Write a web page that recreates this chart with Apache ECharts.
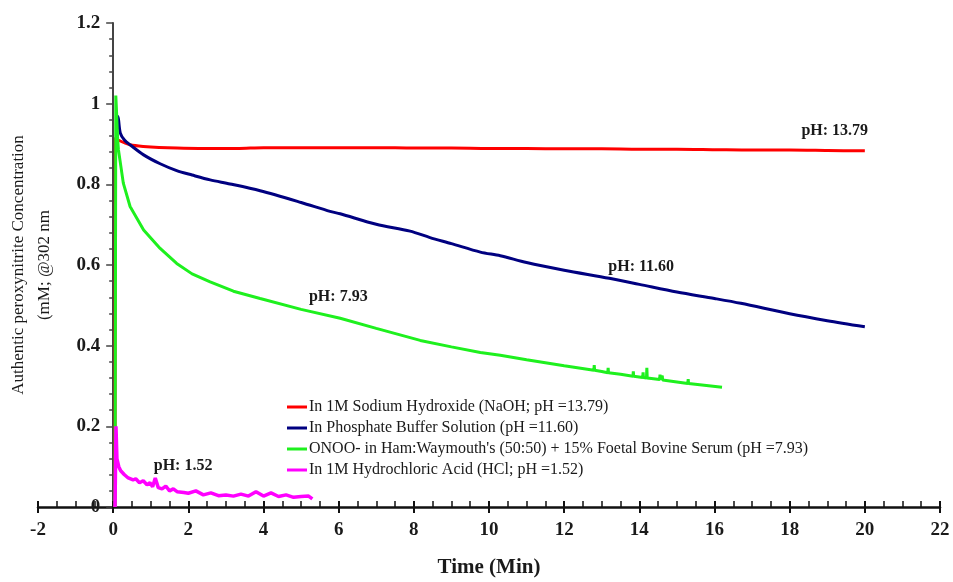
<!DOCTYPE html>
<html>
<head>
<meta charset="utf-8">
<script src="https://cdn.jsdelivr.net/npm/echarts@6/dist/echarts.min.js"></script>
<style>
  html, body { margin: 0; padding: 0; background: #fff; }
  #chart { width: 953px; height: 582px; }
</style>
</head>
<body>
<div id="chart"></div>
<script>
// ===== 数据 =====
var seriesNames = [
  'In 1M Sodium Hydroxide (NaOH; pH =13.79)',
  'In Phosphate Buffer Solution (pH =11.60)',
  "ONOO- in Ham:Waymouth's (50:50) + 15% Foetal Bovine Serum (pH =7.93)",
  'In 1M Hydrochloric Acid (HCl; pH =1.52)'
];
var seriesColors = ['#ff0000', '#000080', '#1ef01e', '#ff00ff'];

// NaOH, pH 13.79
var naohTime = [0.05, 0.06, 0.13, 0.45, 0.8, 1.7, 2.5, 3.3, 4, 5, 6, 7, 8, 9, 10, 11, 12, 13, 14, 15, 16, 17, 18, 19, 20];
var naohConc = [0, 0.915, 0.91, 0.898, 0.894, 0.89, 0.889, 0.889, 0.891, 0.891, 0.891, 0.891, 0.89, 0.89, 0.889, 0.889, 0.888, 0.888, 0.887, 0.887, 0.886, 0.885, 0.885, 0.884, 0.883];

// 磷酸缓冲液, pH 11.60
var pbsTime = [0.12, 0.13, 0.19, 0.3, 0.45, 0.81, 1.25, 1.69, 2.1, 2.58, 3.11, 3.91, 5, 5.77, 6.04, 7, 7.9, 8.43, 9, 9.77, 10.3, 11, 12, 13.2, 14, 15, 16, 16.7, 18, 19, 20];
var pbsConc = [0.95, 0.968, 0.927, 0.91, 0.898, 0.873, 0.851, 0.834, 0.823, 0.811, 0.801, 0.784, 0.755, 0.733, 0.727, 0.701, 0.684, 0.668, 0.653, 0.632, 0.623, 0.606, 0.587, 0.567, 0.552, 0.533, 0.517, 0.505, 0.479, 0.462, 0.447];

// 细胞培养基, pH 7.93
var mediumTime = [0.05, 0.07, 0.09, 0.12, 0.14, 0.27, 0.45, 0.81, 1.25, 1.69, 2.1, 2.58, 3.2, 3.91, 5, 6.04, 7, 8.17, 9, 9.77, 10.3, 11, 12, 12.79, 12.8, 12.81, 13, 13.16, 13.17, 13.18, 13.5, 13.83, 13.84, 13.85, 14.09, 14.1, 14.11, 14.19, 14.2, 14.21, 14.54, 14.55, 14.56, 14.6, 14.61, 14.62, 15, 15.29, 15.3, 15.31, 16.2];
var mediumConc = [0, 1.02, 0.98, 0.91, 0.886, 0.803, 0.745, 0.687, 0.641, 0.604, 0.578, 0.558, 0.535, 0.517, 0.49, 0.468, 0.443, 0.413, 0.397, 0.383, 0.376, 0.365, 0.35, 0.339, 0.352, 0.339, 0.336, 0.333, 0.345, 0.333, 0.329, 0.324, 0.336, 0.324, 0.321, 0.334, 0.321, 0.32, 0.345, 0.32, 0.316, 0.328, 0.316, 0.315, 0.326, 0.315, 0.31, 0.306, 0.317, 0.306, 0.297];

// 盐酸, pH 1.52
var hclTime = [0.05, 0.07, 0.075, 0.09, 0.1, 0.15, 0.2, 0.3, 0.4, 0.53, 0.6, 0.7, 0.8, 0.9, 0.98, 1.05, 1.12, 1.2, 1.3, 1.4, 1.5, 1.6, 1.7, 1.88, 2, 2.2, 2.4, 2.6, 2.8, 3, 3.2, 3.4, 3.6, 3.8, 4, 4.2, 4.4, 4.6, 4.8, 5, 5.2, 5.3];
var hclConc = [0, 0, 0.2, 0.2, 0.12, 0.1, 0.09, 0.08, 0.072, 0.067, 0.07, 0.06, 0.065, 0.055, 0.06, 0.05, 0.072, 0.048, 0.045, 0.052, 0.04, 0.045, 0.038, 0.036, 0.034, 0.04, 0.03, 0.035, 0.028, 0.03, 0.027, 0.032, 0.027, 0.038, 0.027, 0.035, 0.026, 0.03, 0.024, 0.026, 0.027, 0.02];

// pH 标注
var noteTime = [19.2, 14.05, 5.99, 1.86];
var noteConc = [0.933, 0.596, 0.522, 0.101];
var noteText = ['pH: 13.79', 'pH: 11.60', 'pH: 7.93', 'pH: 1.52'];

var FONT = 'Liberation Serif';

// 布局：x 轴 -2..22，y 轴画在 x=0 处
var GRID_LEFT = 38, GRID_RIGHT = 13, X_MIN = -2, X_MAX = 22;
var plotWidth = 953 - GRID_LEFT - GRID_RIGHT;
var yAxisShift = plotWidth * (0 - X_MIN) / (X_MAX - X_MIN);

function pairs(xs, ys) {
  return xs.map(function(x, i) { return [x, ys[i]]; });
}

var chart = echarts.init(document.getElementById('chart'));

var lineData = [pairs(naohTime, naohConc), pairs(pbsTime, pbsConc), pairs(mediumTime, mediumConc), pairs(hclTime, hclConc)];

var series = lineData.map(function(d, i) {
  return {
    name: seriesNames[i],
    type: 'line',
    data: d,
    showSymbol: false,
    symbol: 'none',
    smooth: (i === 0 || i === 1) ? 0.3 : false,
    lineStyle: { color: seriesColors[i], width: i === 3 ? 3.5 : 3 },
    itemStyle: { color: seriesColors[i] },
    animation: false
  };
});

series.push({
  name: 'notes',
  type: 'scatter',
  data: noteTime.map(function(t, i) { return [t, noteConc[i], noteText[i]]; }),
  symbolSize: 1,
  itemStyle: { color: 'rgba(0,0,0,0)', opacity: 1 },
  silent: true,
  label: {
    show: true,
    position: 'inside',
    formatter: function(p) { return p.value[2]; },
    fontFamily: FONT,
    fontWeight: 'bold',
    fontSize: 16,
    color: '#1a1a1a',
    opacity: 1
  },
  animation: false
});

var option = {
  backgroundColor: '#fff',
  animation: false,
  grid: { left: GRID_LEFT, right: GRID_RIGHT, top: 23, bottom: 75, outerBoundsMode: 'none', containLabel: false },
  legend: {
    orient: 'vertical',
    left: 282,
    top: 394,
    itemWidth: 20,
    itemHeight: 3,
    itemGap: 5,
    data: seriesNames.map(function(n) { return { name: n, icon: 'rect' }; }),
    textStyle: { fontFamily: FONT, fontSize: 16, color: '#1a1a1a', lineHeight: 16, padding: [0, 0, 0, -3] }
  },
  xAxis: [
    {
      type: 'value',
      min: X_MIN,
      max: X_MAX,
      interval: 2,
      name: 'Time (Min)',
      nameLocation: 'middle',
      nameGap: 50,
      nameTextStyle: { fontFamily: FONT, fontWeight: 'bold', fontSize: 21, color: '#1a1a1a' },
      axisLine: { onZero: true, lineStyle: { color: '#111', width: 2.5 } },
      axisTick: { show: true, inside: true, length: 6, lineStyle: { color: '#111', width: 2 } },
      minorTick: { show: true, splitNumber: 4, length: 6, lineStyle: { color: '#111', width: 1.5 } },
      splitLine: { show: false },
      axisLabel: { fontFamily: FONT, fontWeight: 'bold', fontSize: 19, color: '#1a1a1a', margin: 14 }
    },
    {
      // 主刻度向下延伸部分
      type: 'value',
      position: 'bottom',
      min: X_MIN,
      max: X_MAX,
      interval: 2,
      axisLine: { show: false, onZero: false },
      axisTick: { show: true, inside: false, length: 6, lineStyle: { color: '#111', width: 2 } },
      axisLabel: { show: false },
      splitLine: { show: false }
    }
  ],
  yAxis: {
    type: 'value',
    min: 0,
    max: 1.2,
    interval: 0.2,
    offset: -yAxisShift,
    name: 'Authentic peroxynitrite Concentration\n(mM; @302 nm',
    nameLocation: 'middle',
    nameGap: 56,
    nameTextStyle: { fontFamily: FONT, fontSize: 17, color: '#1a1a1a', lineHeight: 26, align: 'center' },
    axisLine: { onZero: false, lineStyle: { color: '#444', width: 2 } },
    axisTick: { show: true, inside: false, length: 7, lineStyle: { color: '#444', width: 1.5 } },
    minorTick: { show: true, splitNumber: 5, length: 4, lineStyle: { color: '#444', width: 1.5 } },
    splitLine: { show: false },
    axisLabel: { fontFamily: FONT, fontWeight: 'bold', fontSize: 19, color: '#1a1a1a', margin: 13 }
  },
  series: series
};

chart.setOption(option);
</script>
</body>
</html>
